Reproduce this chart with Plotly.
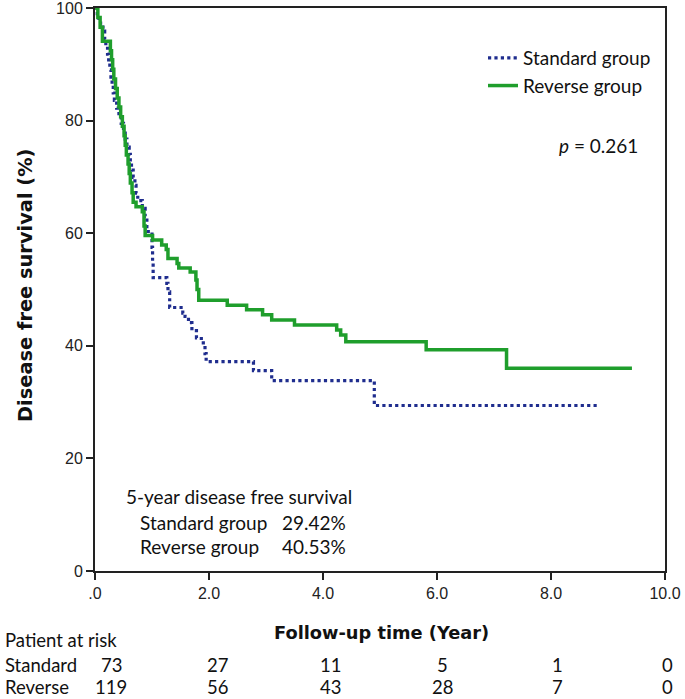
import plotly.graph_objects as go

# ---------------- data ----------------
std_time = [0.00, 0.04, 0.07, 0.14, 0.17, 0.19, 0.22, 0.24, 0.26, 0.28, 0.30, 0.32, 0.34, 0.38,
            0.42, 0.46, 0.50, 0.53, 0.56, 0.60, 0.62, 0.64, 0.67, 0.70, 0.72, 0.75, 0.83, 0.88,
            0.91, 1.00, 1.01, 1.02, 1.26, 1.28, 1.31, 1.54, 1.58, 1.64, 1.70, 1.78, 1.80, 1.90,
            1.93, 1.95, 2.78, 3.10, 4.90, 8.85]
std_surv = [100.0, 98.6, 97.3, 95.9, 94.5, 93.2, 91.8, 90.4, 89.0, 87.7, 86.3, 84.9, 83.6, 82.2,
            80.8, 79.5, 78.1, 76.7, 75.3, 74.0, 72.6, 71.2, 69.9, 68.5, 67.1, 65.8, 64.4, 63.0,
            60.3, 57.5, 54.8, 52.1, 51.1, 49.6, 46.8, 45.8, 45.2, 44.1, 42.7, 41.4, 41.3, 40.0,
            38.6, 37.2, 35.6, 33.8, 29.4, 29.4]

rev_time = [0.00, 0.05, 0.09, 0.13, 0.27, 0.29, 0.31, 0.33, 0.36, 0.39, 0.42, 0.45, 0.48, 0.51,
            0.53, 0.55, 0.58, 0.60, 0.62, 0.65, 0.67, 0.72, 0.83, 0.86, 0.88, 1.01, 1.17, 1.25,
            1.28, 1.44, 1.47, 1.67, 1.77, 1.79, 1.82, 2.32, 2.66, 2.94, 3.10, 3.50, 4.24, 4.31,
            4.40, 5.81, 7.22, 9.42]
rev_surv = [100.0, 98.3, 96.6, 94.1, 92.4, 90.8, 89.1, 87.4, 85.7, 84.0, 82.4, 80.7, 79.0, 77.3,
            75.6, 73.9, 72.3, 70.6, 68.9, 67.2, 65.5, 64.7, 63.8, 61.3, 59.6, 58.8, 57.9, 57.1,
            55.5, 54.6, 53.8, 53.1, 51.7, 50.0, 48.1, 47.2, 46.4, 45.5, 44.6, 43.7, 42.8, 41.9,
            40.7, 39.3, 36.0, 36.0]

group_names = ["Standard group", "Reverse group"]
x_tick_vals = [0, 2, 4, 6, 8, 10]
x_tick_text = [".0", "2.0", "4.0", "6.0", "8.0", "10.0"]
y_tick_vals = [0, 20, 40, 60, 80, 100]

risk_labels = ["Standard", "Reverse"]
risk_standard = [73, 27, 11, 5, 1, 0]
risk_reverse = [119, 56, 43, 28, 7, 0]

five_year_title = "5-year disease free survival"
five_year_values = ["29.42%", "40.53%"]
p_text = "<i>p</i> = 0.261"

# ---------------- layout helpers ----------------
W, H = 685, 699
L, R, T, B = 95, 20, 8, 128
PW, PH = W - L - R, H - T - B


def pxx(x):
    return (x - L) / PW


def pxy(y):
    return (H - B - y) / PH


BLUE = "#1f2d8e"
GREEN = "#1f9e2c"
TXT = "Lato"

fig = go.Figure()
fig.add_trace(go.Scatter(x=std_time, y=std_surv, mode="lines", name=group_names[0],
                         line=dict(color=BLUE, width=3.2, dash="dot", shape="hv")))
fig.add_trace(go.Scatter(x=rev_time, y=rev_surv, mode="lines", name=group_names[1],
                         line=dict(color=GREEN, width=3.5, shape="hv")))

ann = []
# 5-year summary
ann.append(dict(text=five_year_title, x=pxx(124), y=pxy(496), xanchor="left", yanchor="middle"))
for i, (g, v) in enumerate(zip(group_names, five_year_values)):
    yy = pxy(522 + 24 * i)
    ann.append(dict(text=g, x=pxx(138), y=yy, xanchor="left", yanchor="middle"))
    ann.append(dict(text=v, x=pxx(348), y=yy, xanchor="right", yanchor="middle"))
# p value
ann.append(dict(text=p_text, x=pxx(557), y=pxy(145), xanchor="left", yanchor="middle"))
for a in ann:
    a["font"] = dict(family=TXT, size=19, color="#111")
# risk table
risk = []
risk.append(dict(text="Patient at risk", x=pxx(3), y=pxy(640), xanchor="left", yanchor="middle"))
col_shift = [16, 8, 7, 5, 6, 2]
for r, (lab, vals) in enumerate(zip(risk_labels, [risk_standard, risk_reverse])):
    yy = pxy(665 + 22 * r)
    risk.append(dict(text=lab, x=pxx(3), y=yy, xanchor="left", yanchor="middle"))
    for j, (t, v) in enumerate(zip(x_tick_vals, vals)):
        risk.append(dict(text=str(v), x=t, xref="x", y=yy, xanchor="center", yanchor="middle",
                         xshift=col_shift[j]))
for a in risk:
    a["font"] = dict(family=TXT, size=18.5, color="#111")
ann += risk
for a in ann:
    a.setdefault("xref", "paper")
    a.setdefault("yref", "paper")
    a["showarrow"] = False
# axis titles
ann.append(dict(text="<b>Follow-up time (Year)</b>", x=pxx(381), y=pxy(632), xref="paper", yref="paper",
                xanchor="center", yanchor="middle", showarrow=False,
                font=dict(family="DejaVu Sans", size=17.8, color="#111")))
ann.append(dict(text="<b>Disease free survival (%)</b>", x=pxx(25), y=pxy(285), xref="paper", yref="paper",
                xanchor="center", yanchor="middle", showarrow=False, textangle=-90,
                font=dict(family="DejaVu Sans", size=19.4, color="#111")))

axis_common = dict(showgrid=False, zeroline=False, showline=True, linecolor="#222", linewidth=2,
                   mirror=True, ticks="outside", ticklen=7, tickwidth=2, tickcolor="#222",
                   automargin=False, ticklabeloverflow="allow",
                   tickfont=dict(family="Liberation Sans", size=16, color="#222"))

fig.update_layout(
    width=W, height=H,
    margin=dict(l=L, r=R, t=T, b=B, autoexpand=False),
    paper_bgcolor="white", plot_bgcolor="white",
    xaxis=dict(range=[0, 10], tickvals=x_tick_vals, ticktext=x_tick_text, **axis_common),
    yaxis=dict(range=[0, 100], tickvals=y_tick_vals, **axis_common),
    legend=dict(x=pxx(483), y=pxy(39), xanchor="left", yanchor="top", bgcolor="rgba(0,0,0,0)",
                font=dict(family=TXT, size=19, color="#111"), itemwidth=30, tracegroupgap=0),
    annotations=ann,
    showlegend=True,
)

fig.write_html("out.html", config={"displayModeBar": False},
               post_script="document.body.style.margin='0px';document.body.style.overflow='hidden';")
